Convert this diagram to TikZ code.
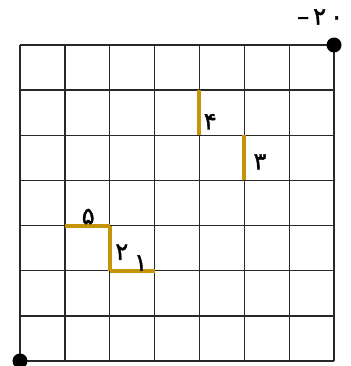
\documentclass[tikz,border=0pt]{standalone}
\usepackage{fontspec}
\newfontfamily\farsi[FakeBold=1.5]{DejaVu Sans}
\definecolor{gold}{RGB}{198,148,8}
\definecolor{gridc}{RGB}{40,40,40}
\begin{document}
\begin{tikzpicture}[x=44.86pt,y=45.14pt,
  gridline/.style={draw=gridc,line width=1.3pt},
  seg/.style={draw=gold,line width=4pt},
  dot/.style={circle,fill=black,inner sep=0pt,minimum size=15pt},
  lbl/.style={font=\farsi\fontsize{24}{28}\selectfont,inner sep=0pt}]
\useasboundingbox (-0.4458,-0.1108) rectangle (7.378,7.997);
\foreach \i in {0,...,7} {
  \draw[gridline] (\i,0) -- (\i,7);
  \draw[gridline] (0,\i) -- (7,\i);
}
% segments
\coordinate (a1) at (1,3);
\coordinate (a2) at (2,3);
\coordinate (a3) at (2,2);
\coordinate (a4) at (3,2);
\coordinate (b1) at (4,6);
\coordinate (b2) at (4,5);
\coordinate (c1) at (5,5);
\coordinate (c2) at (5,4);
\draw[seg] (a1) -- (a2);
\draw[seg] (a2) -- (a3);
\draw[seg] (a3) -- (a4);
\draw[seg] (b1) -- (b2);
\draw[seg] (c1) -- (c2);
% labels
\node[lbl] (l5) at (1.52,3.2) {۵};
\node[lbl] (l2) at (2.27,2.41) {۲};
\node[lbl] (l1) at (2.69,2.17) {۱};
\node[lbl] (l4) at (4.24,5.30) {۴};
\node[lbl] (l3) at (5.35,4.41) {۳};
\node[lbl] (lt) at (6.69,7.62) {–\,۲\,۰};
% dots
\node[dot] (d0) at (0,0) {};
\node[dot] (d1) at (7,7) {};
\end{tikzpicture}
\end{document}
